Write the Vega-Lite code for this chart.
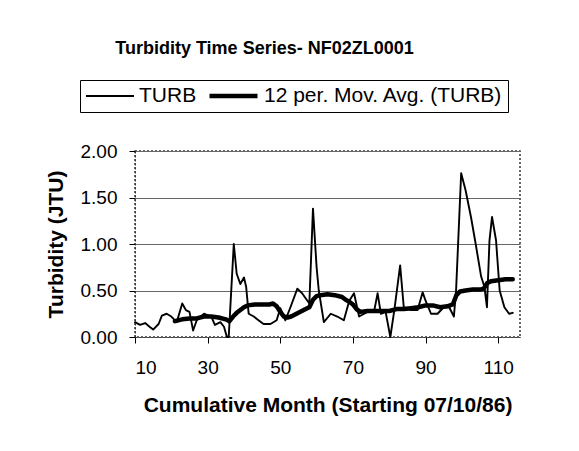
{
  "$schema": "https://vega.github.io/schema/vega-lite/v6.json",
  "autosize": {"type": "none"},
  "width": 385,
  "height": 186,
  "padding": {"left": 135, "top": 151, "right": 59, "bottom": 114},
  "background": "white",
  "title": {
    "text": "Turbidity Time Series- NF02ZL0001",
    "font": "Liberation Sans",
    "fontSize": 18,
    "fontWeight": "bold",
    "color": "black",
    "anchor": "middle",
    "frame": "group",
    "dx": -63,
    "offset": 22
  },
  "config": {
    "font": "Liberation Sans",
    "view": {"stroke": "#333", "strokeDash": [2, 2], "strokeWidth": 1.5},
    "axis": {"labelFont": "Liberation Sans", "titleFont": "Liberation Sans", "labelColor": "black", "titleColor": "black", "domainColor": "black", "tickColor": "black"}
  },
  "data": {"values": [
    {"m": 10, "v": 0.16, "s": "TURB"}, {"m": 11.4, "v": 0.13, "s": "TURB"}, {"m": 12.8, "v": 0.15, "s": "TURB"},
    {"m": 14, "v": 0.11, "s": "TURB"}, {"m": 15, "v": 0.08, "s": "TURB"}, {"m": 16.5, "v": 0.14, "s": "TURB"},
    {"m": 17.4, "v": 0.23, "s": "TURB"}, {"m": 18.7, "v": 0.25, "s": "TURB"}, {"m": 20, "v": 0.22, "s": "TURB"},
    {"m": 21.5, "v": 0.16, "s": "TURB"}, {"m": 23, "v": 0.36, "s": "TURB"}, {"m": 24, "v": 0.29, "s": "TURB"},
    {"m": 25, "v": 0.27, "s": "TURB"}, {"m": 26, "v": 0.07, "s": "TURB"}, {"m": 27, "v": 0.18, "s": "TURB"},
    {"m": 29, "v": 0.25, "s": "TURB"}, {"m": 31, "v": 0.22, "s": "TURB"}, {"m": 32, "v": 0.13, "s": "TURB"},
    {"m": 33.5, "v": 0.16, "s": "TURB"}, {"m": 34.5, "v": 0.11, "s": "TURB"}, {"m": 35.3, "v": 0.0, "s": "TURB"},
    {"m": 35.8, "v": 0.0, "s": "TURB"}, {"m": 37.2, "v": 1.0, "s": "TURB"}, {"m": 38, "v": 0.68, "s": "TURB"},
    {"m": 39, "v": 0.57, "s": "TURB"}, {"m": 40, "v": 0.64, "s": "TURB"}, {"m": 40.6, "v": 0.54, "s": "TURB"},
    {"m": 41.3, "v": 0.25, "s": "TURB"}, {"m": 42.7, "v": 0.22, "s": "TURB"}, {"m": 44, "v": 0.18, "s": "TURB"},
    {"m": 45.4, "v": 0.14, "s": "TURB"}, {"m": 47.3, "v": 0.14, "s": "TURB"}, {"m": 49, "v": 0.18, "s": "TURB"},
    {"m": 50, "v": 0.31, "s": "TURB"}, {"m": 51.4, "v": 0.18, "s": "TURB"}, {"m": 52.8, "v": 0.32, "s": "TURB"},
    {"m": 54.7, "v": 0.52, "s": "TURB"}, {"m": 56, "v": 0.47, "s": "TURB"}, {"m": 58, "v": 0.36, "s": "TURB"},
    {"m": 59, "v": 1.38, "s": "TURB"}, {"m": 60, "v": 0.75, "s": "TURB"}, {"m": 60.6, "v": 0.5, "s": "TURB"},
    {"m": 62, "v": 0.16, "s": "TURB"}, {"m": 63.9, "v": 0.25, "s": "TURB"}, {"m": 65.7, "v": 0.22, "s": "TURB"},
    {"m": 67.5, "v": 0.18, "s": "TURB"}, {"m": 69, "v": 0.39, "s": "TURB"}, {"m": 70.3, "v": 0.47, "s": "TURB"},
    {"m": 71.7, "v": 0.22, "s": "TURB"}, {"m": 74, "v": 0.27, "s": "TURB"}, {"m": 75.8, "v": 0.27, "s": "TURB"},
    {"m": 76.8, "v": 0.47, "s": "TURB"}, {"m": 77.7, "v": 0.25, "s": "TURB"}, {"m": 79, "v": 0.27, "s": "TURB"},
    {"m": 80.3, "v": 0.0, "s": "TURB"}, {"m": 81.4, "v": 0.29, "s": "TURB"}, {"m": 83, "v": 0.77, "s": "TURB"},
    {"m": 84, "v": 0.32, "s": "TURB"}, {"m": 86, "v": 0.29, "s": "TURB"}, {"m": 87.8, "v": 0.29, "s": "TURB"},
    {"m": 89.2, "v": 0.48, "s": "TURB"}, {"m": 90, "v": 0.39, "s": "TURB"}, {"m": 91.5, "v": 0.25, "s": "TURB"},
    {"m": 93.3, "v": 0.25, "s": "TURB"}, {"m": 95, "v": 0.32, "s": "TURB"}, {"m": 96.5, "v": 0.32, "s": "TURB"},
    {"m": 97.8, "v": 0.22, "s": "TURB"}, {"m": 98.4, "v": 0.5, "s": "TURB"}, {"m": 99.8, "v": 1.76, "s": "TURB"},
    {"m": 101, "v": 1.58, "s": "TURB"}, {"m": 102.5, "v": 1.29, "s": "TURB"}, {"m": 103.8, "v": 1.0, "s": "TURB"},
    {"m": 105.3, "v": 0.65, "s": "TURB"}, {"m": 106.2, "v": 0.54, "s": "TURB"}, {"m": 106.9, "v": 0.32, "s": "TURB"},
    {"m": 107.6, "v": 1.04, "s": "TURB"}, {"m": 108.3, "v": 1.29, "s": "TURB"}, {"m": 109.4, "v": 1.04, "s": "TURB"},
    {"m": 110.4, "v": 0.5, "s": "TURB"}, {"m": 111.7, "v": 0.32, "s": "TURB"}, {"m": 113, "v": 0.25, "s": "TURB"},
    {"m": 114, "v": 0.26, "s": "TURB"},
    {"m": 21, "v": 0.17, "s": "12 per. Mov. Avg. (TURB)"}, {"m": 23, "v": 0.19, "s": "12 per. Mov. Avg. (TURB)"},
    {"m": 25, "v": 0.2, "s": "12 per. Mov. Avg. (TURB)"}, {"m": 27, "v": 0.2, "s": "12 per. Mov. Avg. (TURB)"},
    {"m": 29, "v": 0.22, "s": "12 per. Mov. Avg. (TURB)"}, {"m": 31, "v": 0.22, "s": "12 per. Mov. Avg. (TURB)"},
    {"m": 33, "v": 0.21, "s": "12 per. Mov. Avg. (TURB)"}, {"m": 35, "v": 0.19, "s": "12 per. Mov. Avg. (TURB)"},
    {"m": 36, "v": 0.17, "s": "12 per. Mov. Avg. (TURB)"}, {"m": 37, "v": 0.22, "s": "12 per. Mov. Avg. (TURB)"},
    {"m": 38, "v": 0.26, "s": "12 per. Mov. Avg. (TURB)"}, {"m": 39, "v": 0.29, "s": "12 per. Mov. Avg. (TURB)"},
    {"m": 40, "v": 0.32, "s": "12 per. Mov. Avg. (TURB)"}, {"m": 41, "v": 0.34, "s": "12 per. Mov. Avg. (TURB)"},
    {"m": 43, "v": 0.35, "s": "12 per. Mov. Avg. (TURB)"}, {"m": 45, "v": 0.35, "s": "12 per. Mov. Avg. (TURB)"},
    {"m": 47, "v": 0.35, "s": "12 per. Mov. Avg. (TURB)"}, {"m": 48, "v": 0.36, "s": "12 per. Mov. Avg. (TURB)"},
    {"m": 49, "v": 0.33, "s": "12 per. Mov. Avg. (TURB)"}, {"m": 50, "v": 0.27, "s": "12 per. Mov. Avg. (TURB)"},
    {"m": 51, "v": 0.22, "s": "12 per. Mov. Avg. (TURB)"}, {"m": 52, "v": 0.21, "s": "12 per. Mov. Avg. (TURB)"},
    {"m": 53, "v": 0.22, "s": "12 per. Mov. Avg. (TURB)"}, {"m": 55, "v": 0.26, "s": "12 per. Mov. Avg. (TURB)"},
    {"m": 57, "v": 0.3, "s": "12 per. Mov. Avg. (TURB)"}, {"m": 58, "v": 0.32, "s": "12 per. Mov. Avg. (TURB)"},
    {"m": 59, "v": 0.4, "s": "12 per. Mov. Avg. (TURB)"}, {"m": 60, "v": 0.44, "s": "12 per. Mov. Avg. (TURB)"},
    {"m": 61, "v": 0.45, "s": "12 per. Mov. Avg. (TURB)"}, {"m": 63, "v": 0.46, "s": "12 per. Mov. Avg. (TURB)"},
    {"m": 65, "v": 0.45, "s": "12 per. Mov. Avg. (TURB)"}, {"m": 67, "v": 0.43, "s": "12 per. Mov. Avg. (TURB)"},
    {"m": 68, "v": 0.4, "s": "12 per. Mov. Avg. (TURB)"}, {"m": 69, "v": 0.38, "s": "12 per. Mov. Avg. (TURB)"},
    {"m": 70, "v": 0.35, "s": "12 per. Mov. Avg. (TURB)"}, {"m": 71, "v": 0.3, "s": "12 per. Mov. Avg. (TURB)"},
    {"m": 72, "v": 0.27, "s": "12 per. Mov. Avg. (TURB)"}, {"m": 74, "v": 0.28, "s": "12 per. Mov. Avg. (TURB)"},
    {"m": 76, "v": 0.28, "s": "12 per. Mov. Avg. (TURB)"}, {"m": 78, "v": 0.28, "s": "12 per. Mov. Avg. (TURB)"},
    {"m": 80, "v": 0.28, "s": "12 per. Mov. Avg. (TURB)"}, {"m": 82, "v": 0.3, "s": "12 per. Mov. Avg. (TURB)"},
    {"m": 84, "v": 0.3, "s": "12 per. Mov. Avg. (TURB)"}, {"m": 86, "v": 0.31, "s": "12 per. Mov. Avg. (TURB)"},
    {"m": 88, "v": 0.32, "s": "12 per. Mov. Avg. (TURB)"}, {"m": 90, "v": 0.34, "s": "12 per. Mov. Avg. (TURB)"},
    {"m": 92, "v": 0.34, "s": "12 per. Mov. Avg. (TURB)"}, {"m": 94, "v": 0.32, "s": "12 per. Mov. Avg. (TURB)"},
    {"m": 96, "v": 0.33, "s": "12 per. Mov. Avg. (TURB)"}, {"m": 97.5, "v": 0.35, "s": "12 per. Mov. Avg. (TURB)"},
    {"m": 98.5, "v": 0.45, "s": "12 per. Mov. Avg. (TURB)"}, {"m": 99.5, "v": 0.49, "s": "12 per. Mov. Avg. (TURB)"},
    {"m": 101, "v": 0.5, "s": "12 per. Mov. Avg. (TURB)"}, {"m": 103, "v": 0.51, "s": "12 per. Mov. Avg. (TURB)"},
    {"m": 105, "v": 0.51, "s": "12 per. Mov. Avg. (TURB)"}, {"m": 106, "v": 0.52, "s": "12 per. Mov. Avg. (TURB)"},
    {"m": 107, "v": 0.58, "s": "12 per. Mov. Avg. (TURB)"}, {"m": 108, "v": 0.6, "s": "12 per. Mov. Avg. (TURB)"},
    {"m": 110, "v": 0.61, "s": "12 per. Mov. Avg. (TURB)"}, {"m": 112, "v": 0.62, "s": "12 per. Mov. Avg. (TURB)"},
    {"m": 114, "v": 0.62, "s": "12 per. Mov. Avg. (TURB)"}
  ]},
  "mark": {"type": "line", "strokeJoin": "round", "strokeCap": "round"},
  "encoding": {
    "x": {
      "field": "m", "type": "quantitative",
      "scale": {"domain": [10, 116], "nice": false, "zero": false},
      "axis": {
        "values": [10, 30, 50, 70, 90, 110],
        "title": "Cumulative Month (Starting 07/10/86)",
        "titleFontSize": 21, "titleFontWeight": "bold", "titlePadding": 17,
        "labelFontSize": 19, "labelPadding": 15, "tickSize": 6, "grid": false,
        "domainColor": "#333", "domainDash": [2, 2]
      }
    },
    "y": {
      "field": "v", "type": "quantitative",
      "scale": {"domain": [0, 2], "nice": false},
      "axis": {
        "values": [0, 0.5, 1, 1.5, 2],
        "format": ".2f",
        "title": "Turbidity (JTU)",
        "titleFontSize": 21, "titleFontWeight": "bold", "titlePadding": 14,
        "labelFontSize": 19, "labelPadding": 12, "tickSize": 6,
        "grid": true, "gridColor": "#666", "gridWidth": 1,
        "domainColor": "#333", "domainDash": [2, 2]
      }
    },
    "color": {
      "field": "s", "type": "nominal",
      "scale": {"domain": ["TURB", "12 per. Mov. Avg. (TURB)"], "range": ["black", "black"]},
      "legend": {
        "title": null, "orient": "none", "legendX": -55, "legendY": -71,
        "direction": "horizontal", "symbolType": "M-1,0L1,0", "symbolSize": 2304,
        "symbolFillColor": "transparent",
        "labelFontSize": 21, "labelFont": "Liberation Sans", "labelColor": "black",
        "strokeColor": "black", "padding": 5, "columnPadding": 10, "labelOffset": 4,
        "fillColor": "white", "labelLimit": 400, "clipHeight": 22
      }
    },
    "strokeWidth": {
      "field": "s", "type": "nominal",
      "scale": {"domain": ["TURB", "12 per. Mov. Avg. (TURB)"], "range": [1.9, 4.5]},
      "legend": {
        "title": null, "orient": "none", "legendX": -55, "legendY": -71,
        "direction": "horizontal", "symbolType": "M-1,0L1,0", "symbolSize": 2304,
        "symbolFillColor": "transparent",
        "labelFontSize": 21, "labelFont": "Liberation Sans", "labelColor": "black",
        "strokeColor": "black", "padding": 5, "columnPadding": 10, "labelOffset": 4,
        "fillColor": "white", "labelLimit": 400, "clipHeight": 22
      }
    }
  }
}
